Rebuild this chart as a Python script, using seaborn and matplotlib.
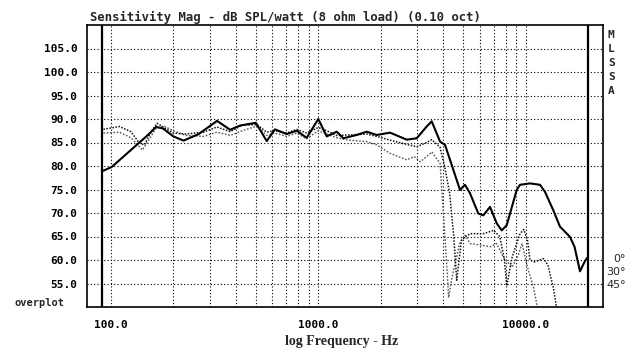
import numpy as np
import pandas as pd
import matplotlib
matplotlib.use("Agg")
import matplotlib.pyplot as plt
from matplotlib.ticker import FixedLocator, NullFormatter, FixedFormatter
import seaborn as sns

# ---- data ----
freq_0 = [92, 101, 134, 150, 165, 178, 200, 224, 265, 325, 376, 419, 500, 564, 618, 704,
          787, 879, 1000, 1098, 1227, 1320, 1531, 1712, 1912, 2217, 2669, 2983, 3330,
          3523, 3864, 4083, 4477, 4823, 5096, 5387, 5909, 6246, 6730, 7249, 7662, 8098,
          9049, 9387, 10490, 11720, 12390, 13580, 14630, 16360, 17200, 18270, 19320, 19820]
spl_0 = [79.0, 79.8, 84.6, 86.5, 88.3, 88.0, 86.3, 85.4, 86.8, 89.6, 87.7, 88.6, 89.2,
         85.3, 87.8, 86.8, 87.5, 86.0, 90.0, 86.3, 87.3, 85.9, 86.6, 87.3, 86.6, 87.1,
         85.6, 85.9, 88.4, 89.5, 85.2, 84.5, 79.2, 74.9, 76.0, 74.2, 69.9, 69.5, 71.3,
         67.8, 66.3, 67.4, 74.9, 76.0, 76.3, 76.0, 74.5, 70.6, 67.1, 64.9, 62.8, 57.6,
         59.8, 60.5]

freq_30 = [92, 110, 125, 137, 145, 155, 167, 180, 200, 230, 280, 325, 376, 430, 506, 564,
           618, 704, 787, 879, 1000, 1098, 1227, 1400, 1712, 1912, 2217, 2669, 2983, 3330,
           3523, 3864, 4083, 4300, 4500, 4650, 4900, 5100, 5400, 6246, 7000, 7500, 7900,
           8098, 8600, 9387, 9800, 10200, 10490, 11000, 11720, 12200, 12800, 13580, 14200]
spl_30 = [87.8, 88.4, 87.3, 84.9, 84.5, 87.0, 89.1, 88.2, 87.0, 86.8, 87.2, 88.3, 87.3,
          88.7, 88.8, 87.2, 87.5, 87.0, 87.8, 87.0, 88.2, 87.5, 86.5, 86.6, 86.8, 86.3,
          85.5, 84.6, 84.1, 85.0, 85.6, 84.0, 79.5, 74.2, 65.0, 55.7, 64.2, 64.9, 65.6,
          65.6, 66.3, 65.0, 60.0, 54.5, 60.6, 65.6, 66.5, 64.2, 60.0, 59.6, 60.0, 60.3,
          58.9, 54.2, 49.0]

freq_45 = [92, 110, 125, 142, 152, 165, 180, 200, 230, 280, 325, 376, 430, 506, 564, 618,
           704, 787, 879, 1000, 1098, 1227, 1400, 1712, 1912, 2217, 2669, 2900, 3100, 3330,
           3523, 3864, 4000, 4150, 4250, 4400, 4800, 5096, 5400, 6246, 6730, 7249, 7800,
           8600, 9200, 9600, 10200, 10900, 11500]
spl_45 = [87.0, 87.2, 86.0, 83.4, 85.5, 88.0, 88.5, 87.5, 86.5, 86.3, 87.2, 86.5, 87.5,
          88.5, 86.5, 87.0, 86.3, 87.0, 85.8, 87.5, 86.8, 86.0, 85.5, 85.2, 84.5, 82.7,
          81.3, 82.0, 80.9, 82.0, 83.0, 80.6, 70.6, 60.0, 52.0, 56.0, 63.5, 65.3, 63.5,
          63.1, 62.8, 63.5, 60.6, 58.5, 61.0, 63.5, 58.5, 54.2, 49.0]

y_ticks = [55, 60, 65, 70, 75, 80, 85, 90, 95, 100, 105]
x_major = [100, 1000, 10000]
x_major_labels = ["100.0", "1000.0", "10000.0"]
legend_labels = ["0°", "30°", "45°"]
title = "Sensitivity Mag - dB SPL/watt (8 ohm load) (0.10 oct)"
xlabel = "log Frequency - Hz"

# ---- style ----
sns.set_style("white")
plt.rcParams["font.family"] = ["DejaVu Sans Mono", "DejaVu Sans"]

df = pd.concat([
    pd.DataFrame({"freq": freq_0, "spl": spl_0, "angle": "0"}),
    pd.DataFrame({"freq": freq_30, "spl": spl_30, "angle": "30"}),
    pd.DataFrame({"freq": freq_45, "spl": spl_45, "angle": "45"}),
])

W, H = 637, 363
fig = plt.figure(figsize=(W / 100, H / 100), dpi=100)
ax = fig.add_axes([87 / W, 1 - 307 / H, (603 - 87) / W, (307 - 25) / H])

ax.set_xscale("log")
ax.set_xlim(76.7, 23590)
ax.set_ylim(50, 110)

# grid
ax.yaxis.set_major_locator(FixedLocator(y_ticks))
ax.yaxis.set_major_formatter(FixedFormatter([f"{v:.1f}" for v in y_ticks]))
ax.xaxis.set_major_locator(FixedLocator(x_major))
ax.xaxis.set_major_formatter(FixedFormatter(x_major_labels))
minor = [m * d for d in (100, 1000, 10000) for m in range(2, 10) if m * d <= 20000]
ax.xaxis.set_minor_locator(FixedLocator(minor))
ax.xaxis.set_minor_formatter(NullFormatter())
ax.grid(True, which="both", axis="x", color="black", linestyle=(0, (1, 2)), linewidth=0.8)
ax.grid(True, which="major", axis="y", color="black", linestyle=(0, (1, 2)), linewidth=0.8)

# cursor lines
ax.axvline(90.6, color="black", linewidth=1.6)
ax.axvline(20000, color="black", linewidth=1.6)

sub = df[df.angle == "45"]
sns.lineplot(data=sub, x="freq", y="spl", ax=ax, color="#555555", linewidth=1.0,
             linestyle=(0, (1.2, 1.2)), estimator=None, sort=False)
sub = df[df.angle == "30"]
sns.lineplot(data=sub, x="freq", y="spl", ax=ax, color="#111111", linewidth=1.1,
             linestyle=(0, (1, 1)), estimator=None, sort=False)
sub = df[df.angle == "0"]
sns.lineplot(data=sub, x="freq", y="spl", ax=ax, color="black", linewidth=1.5,
             estimator=None, sort=False)

ax.set_xlabel("")
ax.set_ylabel("")
for s in ax.spines.values():
    s.set_color("black")
    s.set_linewidth(1.2)

ax.tick_params(axis="y", which="major", direction="out", length=4, width=1, pad=3,
               labelsize=8, colors="black")
ax.tick_params(axis="x", which="both", direction="inout", length=5, width=1, pad=7,
               labelsize=8, colors="black")
for lab in ax.get_xticklabels() + ax.get_yticklabels():
    lab.set_fontweight("bold")

fig.text(90 / W, 1 - 21 / H, title, fontsize=8.8, fontweight="bold",
         ha="left", va="baseline", family=["DejaVu Sans Mono"])
fig.text(342 / W, 1 - 345 / H, xlabel, fontsize=10, fontweight="bold",
         ha="center", va="baseline", family=["Liberation Serif"])
fig.text(14 / W, 1 - 306 / H, "overplot", fontsize=7.5, fontweight="bold",
         ha="left", va="baseline", family=["DejaVu Sans Mono"])
fig.text(608 / W, 1 - 30 / H, "M\nL\nS\nS\nA", fontsize=8, fontweight="bold",
         ha="left", va="top", linespacing=1.5, family=["DejaVu Sans Mono"])
for lab, yy in zip(legend_labels, [262, 275, 288]):
    fig.text(626 / W, 1 - yy / H, lab, fontsize=8, ha="right", va="baseline",
             family=["DejaVu Sans"])

fig.savefig("out.png", dpi=100, facecolor="white")
